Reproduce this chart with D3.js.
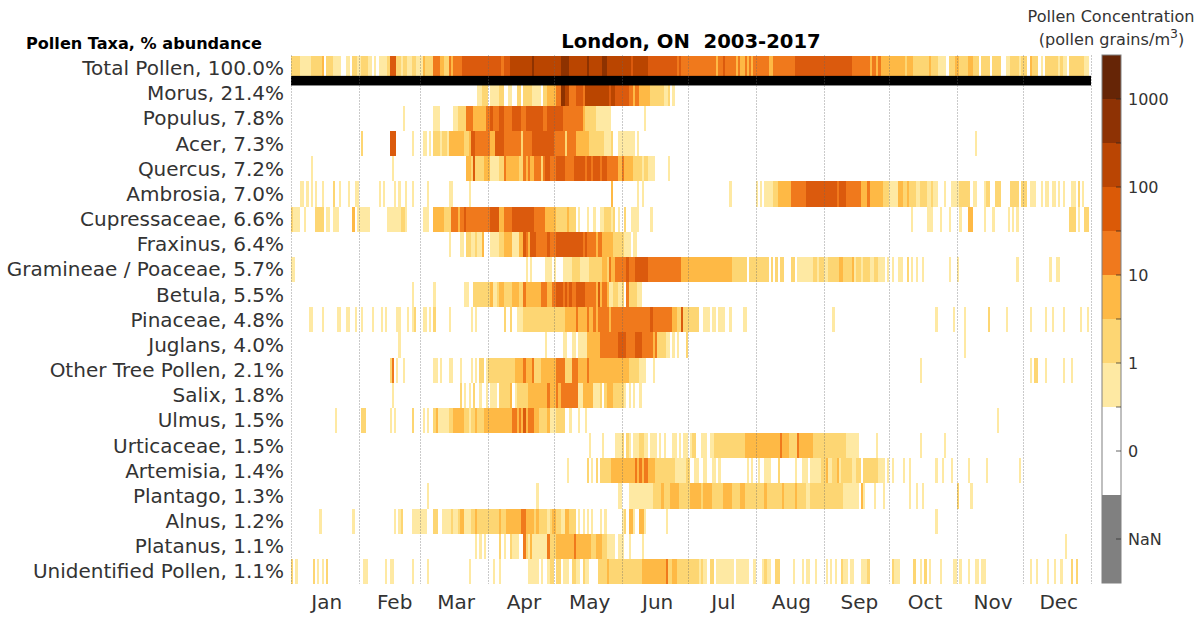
<!DOCTYPE html>
<html><head><meta charset="utf-8">
<script src="https://cdn.jsdelivr.net/npm/d3@7/dist/d3.min.js"></script>
<style>html,body{margin:0;padding:0;background:#fff}svg{display:block}text{font-family:"DejaVu Sans",sans-serif;fill:#333}</style>
</head><body><svg id="c" width="1203" height="618"></svg>
<script>
// Each run: [first day of year, end day of year, concentration class]
const total=[[0,4,2],[4,9,1],[9,14,2],[14,15,3],[16,19,2],[19,23,1],[25,27,1],[28,30,2],[30,32,1],[32,35,2],[35,37,1],[38,39,1],[40,44,1],[44,45,2],[45,48,5],[48,50,2],[50,51,1],[51,53,2],[53,55,1],[55,57,2],[57,60,1],[60,61,3],[61,65,2],[65,68,4],[68,70,3],[70,72,2],[72,73,4],[73,74,3],[74,78,4],[78,96,5],[96,97,4],[97,100,5],[100,110,6],[110,111,7],[111,121,6],[121,123,6],[123,127,7],[127,135,6],[135,136,7],[136,142,6],[142,144,7],[144,155,6],[155,156,5],[156,163,6],[163,164,5],[164,176,5],[176,177,4],[177,178,5],[178,194,4],[194,195,3],[195,197,4],[197,198,5],[198,203,4],[203,204,3],[204,205,4],[205,207,3],[207,208,4],[208,209,3],[209,210,4],[210,211,3],[211,218,4],[218,220,3],[220,230,4],[230,256,5],[256,264,4],[264,265,3],[265,267,4],[267,268,3],[268,269,4],[269,280,3],[280,281,2],[281,284,3],[284,291,2],[291,292,3],[292,295,2],[295,299,1],[300,303,2],[303,305,3],[305,309,2],[309,311,3],[311,314,2],[315,319,2],[320,324,2],[326,328,1],[328,332,2],[332,333,1],[333,336,2],[337,338,3],[338,341,2],[342,343,1],[344,350,2],[350,351,1],[351,352,2],[352,354,1],[355,362,2],[362,364,1]];
const morus=[[85,87,1],[87,90,2],[91,94,1],[94,95,1],[95,97,2],[99,101,1],[103,105,2],[106,110,2],[110,111,1],[111,114,1],[115,117,2],[117,121,3],[121,123,4],[123,125,7],[125,127,6],[127,130,4],[130,133,5],[133,134,4],[134,145,6],[145,146,5],[146,148,6],[148,154,5],[154,156,4],[156,157,3],[157,159,4],[159,164,3],[164,170,2],[170,172,1],[172,173,2],[174,175,1]];
const populus=[[51,52,1],[65,68,1],[74,76,1],[76,78,2],[78,80,2],[80,83,4],[83,89,3],[89,91,4],[91,92,5],[92,95,4],[95,97,5],[97,101,4],[101,105,5],[105,107,4],[107,115,5],[115,117,4],[117,124,5],[124,133,4],[133,134,3],[134,139,2],[139,146,1],[161,162,1]];
const acer=[[32,33,2],[45,48,5],[55,56,1],[60,62,1],[63,64,1],[65,68,2],[68,69,1],[69,71,2],[71,72,1],[72,79,3],[79,81,2],[81,82,3],[82,84,5],[84,85,4],[85,91,4],[91,93,3],[93,97,5],[97,105,4],[105,106,2],[106,110,4],[110,120,5],[120,125,4],[125,126,2],[126,130,4],[130,136,3],[136,143,2],[143,146,1],[146,147,2],[149,157,1],[158,159,1],[312,313,1]];
const quercus=[[9,10,1],[46,47,1],[80,82,3],[82,83,2],[83,84,5],[84,88,2],[88,91,3],[91,95,1],[95,97,2],[97,98,4],[98,104,3],[104,106,2],[106,107,4],[107,108,3],[108,109,4],[109,111,3],[111,114,4],[114,115,2],[115,116,4],[116,118,5],[118,121,4],[121,123,5],[123,125,5],[125,129,4],[129,134,5],[134,135,4],[135,137,5],[137,138,4],[138,141,5],[141,142,4],[142,144,5],[144,149,4],[149,151,3],[151,152,4],[152,156,3],[156,160,2],[160,161,1],[161,163,2],[163,166,1],[172,173,1]];
const ambrosia=[[4,6,1],[7,8,1],[9,10,1],[11,12,1],[14,15,1],[19,20,2],[22,23,1],[26,27,1],[29,31,1],[40,41,1],[42,43,1],[47,48,1],[49,50,1],[52,53,1],[55,56,1],[62,63,1],[72,74,1],[81,82,1],[146,147,3],[158,159,1],[160,161,1],[200,201,1],[212,213,1],[214,215,1],[216,220,1],[220,222,2],[222,228,3],[228,235,4],[235,249,5],[249,250,4],[250,253,5],[253,260,4],[260,263,3],[263,264,4],[264,270,3],[270,273,2],[273,277,1],[277,279,3],[279,281,2],[281,282,3],[282,285,2],[285,287,1],[287,290,2],[290,292,1],[292,293,2],[293,295,1],[298,299,1],[301,305,1],[305,310,2],[311,313,1],[316,317,1],[317,319,2],[321,324,2],[328,332,2],[333,336,2],[337,340,1],[342,343,1],[344,346,1],[347,349,1],[350,351,1],[352,353,1],[356,358,1],[359,360,2],[361,362,1]];
const cupressaceae=[[0,1,2],[1,4,1],[6,7,1],[11,15,2],[16,18,1],[19,22,1],[28,29,3],[30,36,1],[44,48,1],[48,50,1],[50,52,2],[52,53,1],[60,63,1],[65,70,3],[70,73,2],[73,76,4],[76,77,3],[77,79,4],[79,80,5],[80,91,4],[91,95,5],[95,97,3],[97,101,4],[101,111,5],[111,116,4],[116,121,3],[121,126,2],[126,127,3],[127,130,2],[131,132,1],[135,136,1],[138,139,1],[141,143,1],[143,146,2],[146,147,1],[147,148,2],[149,150,1],[152,153,2],[155,159,1],[164,165,1],[283,284,1],[290,293,1],[296,297,1],[300,301,1],[305,306,1],[309,311,3],[316,317,1],[320,321,1],[327,328,1],[329,330,1],[331,332,1],[355,358,2],[359,360,1],[362,364,2]];
const fraxinus=[[72,73,1],[77,79,1],[80,82,2],[82,84,1],[84,85,2],[85,87,1],[87,88,3],[91,95,1],[95,97,2],[97,101,3],[101,104,1],[104,106,3],[106,107,5],[107,108,4],[108,109,3],[109,112,5],[112,117,4],[117,118,5],[118,121,4],[121,133,5],[133,134,4],[134,135,5],[135,139,4],[139,140,3],[140,142,4],[142,147,3],[147,152,2],[152,155,1],[156,158,1]];
const gramineae=[[0,2,1],[107,108,1],[109,110,1],[116,119,1],[120,121,1],[124,128,1],[128,132,2],[132,136,1],[136,142,2],[142,144,3],[144,145,2],[145,146,4],[146,148,3],[148,153,4],[153,154,5],[154,157,4],[157,163,5],[163,178,4],[178,201,3],[201,208,2],[209,218,2],[219,220,2],[221,222,2],[223,225,2],[228,230,2],[231,238,1],[238,240,2],[240,241,1],[241,243,2],[243,245,1],[245,250,2],[250,252,3],[252,256,2],[256,257,3],[257,258,1],[258,260,2],[260,261,1],[261,264,2],[264,266,1],[266,268,2],[268,271,1],[272,273,1],[274,275,1],[277,279,1],[281,282,2],[283,284,1],[285,286,1],[288,289,1],[300,301,1],[304,305,1],[331,332,1],[346,347,1],[349,351,1]];
const betula=[[55,56,1],[65,66,1],[79,80,1],[80,81,1],[83,91,2],[91,92,3],[92,94,1],[94,95,2],[95,97,3],[97,101,2],[101,104,3],[104,106,2],[106,107,4],[107,114,3],[114,117,4],[117,119,3],[119,121,4],[121,123,5],[123,124,5],[124,125,4],[125,126,5],[126,127,4],[127,128,5],[128,130,4],[130,134,5],[134,139,4],[139,140,3],[140,141,5],[141,142,3],[142,144,4],[144,145,3],[145,147,1],[147,149,2],[149,151,1],[151,152,2],[153,154,4],[154,158,2],[158,160,1]];
const pinaceae=[[8,10,1],[14,15,1],[21,23,1],[25,27,1],[29,30,1],[32,33,1],[37,38,1],[41,42,1],[43,44,1],[48,50,1],[53,54,1],[55,56,1],[56,57,2],[60,62,1],[63,64,1],[65,66,2],[72,73,1],[82,83,1],[84,85,1],[97,98,2],[100,101,2],[103,106,1],[106,122,2],[122,125,2],[125,130,3],[130,131,4],[131,135,3],[135,136,4],[136,138,3],[138,139,4],[139,140,3],[140,145,4],[145,146,3],[146,164,4],[164,165,5],[165,174,4],[174,176,3],[176,178,2],[178,179,5],[179,186,2],[188,191,1],[192,194,1],[195,198,1],[200,201,1],[206,208,1],[247,248,1],[294,295,1],[302,303,1],[307,308,1],[318,319,2],[326,327,1],[337,338,1],[344,345,1],[347,348,1],[352,353,1],[360,361,1],[363,364,1]];
const juglans=[[49,50,1],[116,117,1],[124,126,1],[128,130,1],[131,135,1],[135,141,3],[141,149,4],[149,153,5],[153,157,4],[157,160,5],[160,165,4],[165,166,3],[166,167,4],[167,171,2],[171,173,1],[174,175,1],[176,177,1],[180,181,2],[307,308,1]];
const otherTree=[[45,46,2],[46,47,4],[48,49,1],[51,52,1],[65,67,1],[68,69,1],[72,74,1],[77,78,1],[82,83,1],[84,85,1],[86,88,2],[89,90,1],[90,102,2],[102,106,3],[106,107,4],[107,110,3],[110,111,4],[111,114,2],[114,121,3],[121,125,4],[125,128,2],[128,131,4],[131,135,3],[135,136,4],[136,154,3],[154,159,2],[159,162,1],[165,166,1],[287,288,1],[337,338,1],[339,341,2],[344,345,1],[352,353,1],[356,357,1]];
const salix=[[46,47,1],[77,78,2],[79,80,1],[81,82,1],[83,84,2],[86,87,1],[89,90,1],[91,94,1],[95,97,2],[97,100,2],[100,101,3],[102,103,1],[103,108,2],[108,117,3],[117,118,4],[118,121,3],[121,122,4],[122,123,3],[123,125,4],[125,131,4],[131,133,1],[133,138,3],[138,141,1],[141,142,2],[143,144,2],[144,147,3],[147,152,2],[152,153,1],[154,155,1],[156,157,1],[159,160,1]];
const ulmus=[[20,21,1],[32,34,2],[45,46,1],[47,48,1],[55,56,2],[60,61,1],[62,63,1],[65,66,2],[66,67,3],[67,72,1],[72,74,2],[74,79,3],[79,81,2],[81,82,1],[82,84,2],[84,85,3],[85,88,2],[88,101,3],[101,103,4],[103,104,3],[104,105,4],[105,106,3],[106,107,5],[107,108,3],[108,111,4],[111,113,3],[113,117,2],[117,118,3],[118,121,1],[121,125,2],[127,128,1],[131,132,1],[134,135,1],[322,323,1]];
const urticaceae=[[136,137,1],[142,143,1],[148,151,1],[151,152,2],[153,154,2],[154,155,1],[156,159,1],[159,161,2],[161,163,1],[164,167,1],[168,169,1],[170,171,1],[174,176,1],[177,178,1],[179,181,1],[182,183,1],[183,185,2],[187,190,1],[191,193,1],[193,200,2],[200,207,2],[207,223,3],[223,224,4],[224,227,3],[227,231,2],[231,232,4],[232,238,3],[238,253,2],[253,259,1],[267,268,1],[287,288,1],[298,299,1]];
const artemisia=[[126,127,1],[135,136,2],[137,138,1],[139,140,2],[141,146,2],[146,157,3],[157,158,4],[158,159,3],[159,160,4],[160,161,3],[161,163,4],[163,166,3],[166,175,2],[175,180,1],[180,182,2],[184,186,1],[188,190,1],[192,194,1],[195,196,1],[208,209,1],[210,211,1],[213,214,1],[216,219,1],[222,223,2],[230,231,1],[233,236,1],[237,242,1],[242,244,2],[244,245,3],[245,247,1],[247,249,2],[249,250,3],[250,251,1],[251,256,2],[256,258,1],[258,260,2],[261,268,2],[268,271,1],[272,273,1],[274,275,1],[279,280,1],[282,283,1],[294,295,1],[297,298,1],[301,302,1],[309,310,1],[317,318,1],[332,333,1]];
const plantago=[[62,63,1],[112,113,1],[149,151,1],[154,165,1],[165,169,2],[169,170,3],[170,173,2],[173,177,3],[177,182,2],[182,187,3],[187,188,2],[188,192,3],[192,197,2],[197,201,3],[201,205,2],[205,207,3],[207,216,2],[216,217,3],[217,224,2],[224,225,3],[225,230,2],[230,231,3],[231,235,2],[235,237,1],[237,252,2],[252,259,1],[260,261,3],[261,262,1],[266,267,1],[270,271,1],[282,283,1],[285,286,1],[288,289,1],[304,305,2],[310,311,1]];
const alnus=[[13,14,1],[28,29,1],[47,48,1],[49,50,1],[50,51,2],[55,62,1],[65,67,2],[69,73,1],[73,74,2],[74,76,1],[76,77,2],[77,79,3],[79,82,1],[82,84,2],[84,85,3],[85,95,2],[95,96,3],[96,98,2],[98,105,3],[105,107,4],[107,111,3],[111,112,2],[112,113,3],[113,117,2],[117,118,1],[118,119,2],[119,121,3],[121,123,2],[123,125,1],[125,127,3],[127,130,2],[131,132,1],[133,134,1],[135,136,1],[137,138,1],[141,142,1],[143,144,1],[151,152,1],[152,153,2],[154,156,3],[156,157,1],[159,161,3],[161,162,1],[171,172,1],[294,295,1]];
const platanus=[[84,85,1],[86,87,1],[88,89,1],[95,96,2],[97,98,1],[100,101,2],[101,104,1],[106,107,4],[107,108,2],[108,109,1],[109,110,3],[110,117,1],[117,118,4],[118,121,2],[121,129,3],[129,130,4],[130,137,3],[137,139,2],[139,142,3],[142,144,2],[144,148,1],[149,152,1],[154,155,1],[160,161,1],[353,354,1]];
const unidentified=[[0,1,2],[2,3,1],[10,11,2],[12,13,1],[14,15,1],[16,17,2],[33,35,1],[43,44,1],[45,47,1],[55,56,1],[62,63,1],[81,82,1],[92,93,1],[95,96,1],[108,113,1],[114,115,1],[117,118,1],[118,120,2],[121,123,2],[124,127,1],[128,130,2],[130,132,1],[133,134,2],[134,136,1],[140,144,2],[144,145,3],[145,160,2],[160,171,3],[171,172,4],[172,174,2],[174,176,3],[176,186,2],[186,187,1],[187,188,2],[188,190,1],[191,193,2],[194,202,1],[203,209,1],[211,212,1],[215,216,1],[216,217,2],[217,219,1],[221,223,2],[229,230,1],[233,234,1],[235,237,1],[239,240,1],[244,245,1],[246,247,1],[248,249,1],[251,252,2],[252,254,1],[255,257,1],[260,263,1],[263,264,2],[274,275,2],[275,278,1],[284,285,2],[287,288,1],[289,290,2],[291,292,1],[296,297,1],[302,304,1],[305,306,1],[309,310,1],[312,314,1],[315,317,1],[337,338,1],[340,341,1],[345,346,1],[348,349,1],[351,352,1],[356,357,2],[358,359,2]];

const taxa=["Total Pollen, 100.0%","Morus, 21.4%","Populus, 7.8%","Acer, 7.3%","Quercus, 7.2%","Ambrosia, 7.0%","Cupressaceae, 6.6%","Fraxinus, 6.4%","Gramineae / Poaceae, 5.7%","Betula, 5.5%","Pinaceae, 4.8%","Juglans, 4.0%","Other Tree Pollen, 2.1%","Salix, 1.8%","Ulmus, 1.5%","Urticaceae, 1.5%","Artemisia, 1.4%","Plantago, 1.3%","Alnus, 1.2%","Platanus, 1.1%","Unidentified Pollen, 1.1%"];
const rows=[total,morus,populus,acer,quercus,ambrosia,cupressaceae,fraxinus,gramineae,betula,pinaceae,juglans,otherTree,salix,ulmus,urticaceae,artemisia,plantago,alnus,platanus,unidentified];
const months=["Jan","Feb","Mar","Apr","May","Jun","Jul","Aug","Sep","Oct","Nov","Dec"];
const monthDays=[31,28,31,30,31,30,31,31,30,31,30,31];
const monthTickDays=[15,46,74,105,135,166,196,227,258,288,319,349];
const classes=[1,2,3,4,5,6,7,8];
const classColors=["#fee9a3","#fdd673","#feb945","#f0791d","#db5a07","#ba4503","#8e3204","#662506"];
const cbarTicks=[["NaN",1],["0",3],["1",5],["10",7],["100",9],["1000",11]];
const cbarMinor=[4,6,8,10];

const svg=d3.select("#c");
const x=d3.scaleLinear().domain([0,365]).range([291,1091]);
const y=d3.scaleBand().domain(taxa).range([55.5,584]);
const color=d3.scaleOrdinal().domain(classes).range(classColors);

svg.append("defs").append("filter").attr("id","soft").attr("x","-1%").attr("y","-1%").attr("width","102%").attr("height","102%")
  .append("feGaussianBlur").attr("stdDeviation","0.45 0.35");

// heat map
const g=svg.append("g").attr("shape-rendering","crispEdges").attr("filter","url(#soft)");
g.selectAll("g").data(rows).join("g").each(function(runs,i){
  d3.select(this).selectAll("rect").data(runs).join("rect")
    .attr("x",d=>x(d[0])).attr("width",d=>x(d[1])-x(d[0]))
    .attr("y",y(taxa[i])).attr("height",y.bandwidth())
    .attr("fill",d=>color(d[2]));
});

// separator under the total row
svg.append("rect").attr("x",x(0)).attr("width",x(365)-x(0)).attr("y",y(taxa[1])-4.8).attr("height",9.6).attr("fill","#000");

// month grid
const edges=d3.cumsum([0,...monthDays]);
svg.append("g").selectAll("line").data(edges).join("line")
  .attr("x1",d=>Math.round(x(d))+.5).attr("x2",d=>Math.round(x(d))+.5)
  .attr("y1",y.range()[0]).attr("y2",y.range()[1])
  .attr("stroke","#666").attr("stroke-width",1).attr("stroke-dasharray","1 2").attr("opacity",.7);

// axes
const ax=svg.append("g").attr("transform","translate(2.3,592)")
  .call(d3.axisBottom(x).tickValues(monthTickDays).tickFormat((d,i)=>months[i]).tickSize(0).tickPadding(3));
ax.select(".domain").remove();
ax.selectAll("text").attr("font-size",20).attr("font-family",'"DejaVu Sans"').attr("fill","#333");

const ay=svg.append("g").attr("transform","translate(285,0)")
  .call(d3.axisLeft(y).tickSize(0).tickPadding(1));
ay.select(".domain").remove();
ay.selectAll("text").attr("font-size",20).attr("font-family",'"DejaVu Sans"').attr("fill","#333").attr("dy","0.35em");

// titles
svg.append("text").attr("x",691).attr("y",48).attr("text-anchor","middle").attr("font-size",19.6).attr("font-weight","bold").style("white-space","pre").style("fill","#000").text("London, ON  2003-2017");
svg.append("text").attr("x",26).attr("y",49).attr("font-size",16.1).attr("font-weight","bold").style("fill","#000").text("Pollen Taxa, % abundance");
svg.append("text").attr("x",1111).attr("y",21.5).attr("text-anchor","middle").attr("font-size",16.1).text("Pollen Concentration");
const t2=svg.append("text").attr("x",1111.5).attr("y",45).attr("text-anchor","middle").attr("font-size",16.1);
t2.append("tspan").text("(pollen grains/m");
t2.append("tspan").attr("dy",-7).attr("font-size",12.5).text("3");
t2.append("tspan").attr("dy",7).text(")");

// colour bar
const cy=d3.scaleLinear().domain([0,12]).range([583,55]);
const cx0=1102,cx1=1121;
const bands=[{a:0,b:2,c:"#808080"},{a:2,b:4,c:"#ffffff"},...classes.map((k,i)=>({a:4+i,b:5+i,c:color(k)}))];
svg.append("g").attr("shape-rendering","crispEdges").selectAll("rect").data(bands).join("rect")
  .attr("x",cx0).attr("width",cx1-cx0).attr("y",d=>cy(d.b)).attr("height",d=>cy(d.a)-cy(d.b)).attr("fill",d=>d.c);
svg.append("rect").attr("x",cx0).attr("width",cx1-cx0).attr("y",cy(12)).attr("height",cy(0)-cy(12)).attr("fill","none").attr("stroke","#808080").attr("stroke-width",1);
const tickPos=[...cbarTicks.map(d=>d[1]),...cbarMinor];
svg.append("g").selectAll("line").data(tickPos).join("line")
  .attr("x1",cx1-5).attr("x2",cx1).attr("y1",d=>cy(d)).attr("y2",d=>cy(d)).attr("stroke","#262626").attr("stroke-opacity",.7);
svg.append("g").selectAll("text").data(cbarTicks).join("text")
  .attr("x",1128).attr("y",d=>cy(d[1])).attr("dy","0.36em").attr("font-size",16).text(d=>d[0]);
</script></body></html>
